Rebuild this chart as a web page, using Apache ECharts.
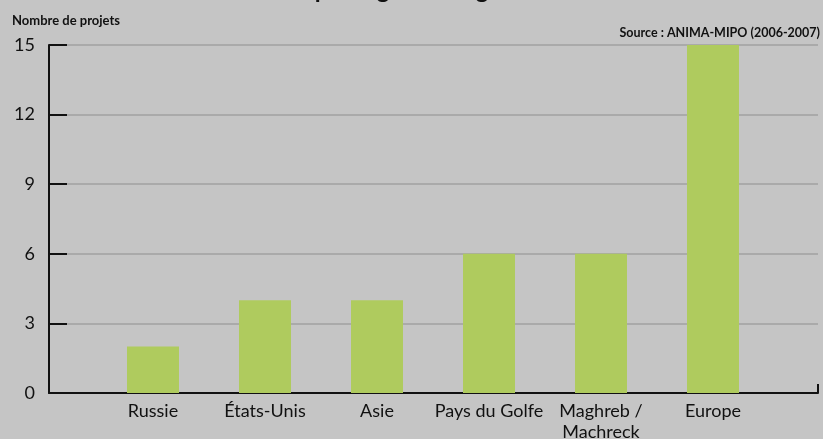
<!DOCTYPE html>
<html>
<head>
<meta charset="utf-8">
<script src="https://cdn.jsdelivr.net/npm/echarts@6/dist/echarts.min.js"></script>
<style>
html, body { margin: 0; padding: 0; background: #c5c5c5; }
#main { width: 823px; height: 439px; }
</style>
</head>
<body>
<div id="main"></div>
<script>
var myChart = echarts.init(document.getElementById('main'));

// data
var categories = ['Russie', 'États-Unis', 'Asie', 'Pays du Golfe', 'Maghreb /\nMachreck', 'Europe'];
var projets = [2, 4, 4, 6, 6, 15];
var yTicks = [0, 3, 6, 9, 12, 15];

var positions = categories.map(function (c, i) { return i + 1; });
var barData = projets.map(function (v, i) { return [positions[i], v]; });

var font = 'Lato';

option = {
    backgroundColor: '#c5c5c5',
    animation: false,
    title: {
        text: 'Investissements par région d\'origine',
        left: 133,
        top: -27,
        textStyle: { fontFamily: font, fontSize: 24, fontWeight: 'bold', color: '#111' }
    },
    graphic: [
        {
            type: 'text', left: 12, top: 14,
            style: { text: 'Nombre de projets', font: 'bold 13px ' + font, fill: '#111' }
        },
        {
            type: 'text', right: 3, top: 26,
            style: { text: 'Source : ANIMA-MIPO (2006-2007)', font: 'bold 12.5px ' + font, fill: '#111' }
        }
    ],
    grid: { left: 49, right: 5, top: 45, bottom: 46, containLabel: false, outerBoundsMode: 'none' },
    xAxis: {
        type: 'value',
        min: 0.0714,
        max: 6.9375,
        splitLine: { show: false },
        axisLine: { lineStyle: { color: '#111', width: 2 } },
        axisTick: { show: true, inside: true, length: 9, customValues: [6.9375], lineStyle: { color: '#111', width: 2 } },
        axisLabel: {
            customValues: positions,
            fontFamily: font, fontSize: 18, color: '#111', margin: 8, lineHeight: 21,
            formatter: function (v) { return categories[Math.round(v) - 1] || ''; }
        }
    },
    yAxis: {
        type: 'value',
        min: yTicks[0],
        max: yTicks[yTicks.length - 1],
        interval: 3,
        axisLine: { show: true, lineStyle: { color: '#111', width: 2 } },
        axisTick: { show: true, inside: true, length: 18, lineStyle: { color: '#111', width: 2 } },
        axisLabel: { fontFamily: font, fontSize: 18, color: '#111', margin: 14 },
        splitLine: { show: true, lineStyle: { color: '#aaaaaa', width: 2 } }
    },
    series: [
        {
            name: 'Projets',
            type: 'bar',
            barWidth: 52,
            itemStyle: { color: '#afcb5e' },
            data: barData
        }
    ]
};

myChart.setOption(option);
</script>
</body>
</html>
